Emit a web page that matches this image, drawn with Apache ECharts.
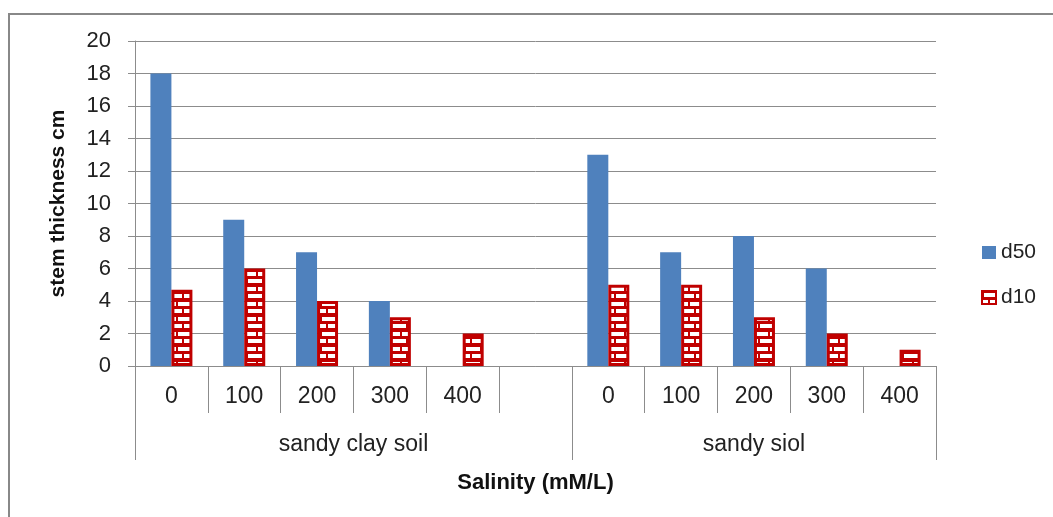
<!DOCTYPE html>
<html>
<head>
<meta charset="utf-8">
<script src="https://cdn.jsdelivr.net/npm/echarts@6/dist/echarts.min.js"></script>
<style>
  html, body { margin: 0; padding: 0; background: #fff; }
  #main { width: 1053px; height: 517px; }
</style>
</head>
<body>
<div id="main"></div>
<script>
// salinity levels per slot ('' is the empty spacer slot between soils)
var salinity = ['0', '100', '200', '300', '400', '', '0', '100', '200', '300', '400']
var d50 = [18, 9, 7, 4, '-', '-', 13, 7, 8, 6, '-']
var d10 = [4.7, 6, 4, 3, 2, '-', 5, 5, 3, 2, 1]
var soils = ['sandy clay soil', 'sandy siol']
var soilSpans = [6, 5]
var yMin = 0
var yMax = 20
var yStep = 2

var FONT = 'Liberation Sans'
var GRAY = '#8c8c8c'

// brick pattern for d10
function brickPattern () {
  var c = document.createElement('canvas')
  c.width = 16
  c.height = 15
  var ctx = c.getContext('2d')
  ctx.fillStyle = '#c00000'
  ctx.fillRect(0, 0, 16, 15)
  ctx.fillStyle = '#ffffff'
  // row 1
  ctx.fillRect(2, 2, 14, 4)
  // row 2
  ctx.fillRect(0, 9, 6, 4)
  ctx.fillRect(8, 9, 8, 4)
  return c
}

// second level axis: half-slot resolution so group labels sit centred
var groupAxis = []
var groupTicks = {}
var groupLabelIdx = {}
var start = 0
for (var g = 0; g < soils.length; g++) {
  groupTicks[start * 2] = true
  groupLabelIdx[start * 2 + soilSpans[g]] = soils[g]
  start += soilSpans[g]
}
groupTicks[start * 2] = true
for (var k = 0; k <= salinity.length * 2; k++) {
  groupAxis.push(groupLabelIdx[k] || '')
}

var chart = echarts.init(document.getElementById('main'))
chart.setOption({
  animation: false,
  backgroundColor: '#fff',
  textStyle: { fontFamily: FONT },
  graphic: [{
    type: 'rect',
    shape: { x: 9, y: 14, width: 1100, height: 600 },
    style: { fill: 'none', stroke: '#888', lineWidth: 2 }
  }],
  grid: { left: 135, right: 117, top: 41, bottom: 151 },
  legend: {
    orient: 'vertical',
    left: 976,
    top: 237,
    itemWidth: 14,
    itemHeight: 13,
    itemGap: 24,
    textStyle: { fontFamily: FONT, fontSize: 21, color: '#222' },
    data: [{ name: 'd50', icon: 'rect' }, { name: 'd10', icon: 'rect' }]
  },
  xAxis: [{
    type: 'category',
    data: salinity,
    position: 'bottom',
    axisLine: { show: true, lineStyle: { color: GRAY, width: 1 } },
    axisTick: { show: true, length: 47, interval: 0, alignWithLabel: false, lineStyle: { color: GRAY } },
    axisLabel: { interval: 0, margin: 19, fontSize: 23, color: '#222', fontFamily: FONT }
  }, {
    type: 'category',
    data: groupAxis,
    position: 'bottom',
    boundaryGap: false,
    axisLine: { show: false },
    axisTick: {
      show: true,
      length: 94,
      interval: function (i) { return !!groupTicks[i] },
      lineStyle: { color: GRAY }
    },
    axisLabel: {
      interval: function (i, v) { return v !== '' },
      margin: 67,
      fontSize: 23,
      color: '#222',
      fontFamily: FONT
    },
    name: 'Salinity (mM/L)',
    nameLocation: 'middle',
    nameGap: 106,
    nameTextStyle: { fontSize: 22, fontWeight: 'bold', color: '#111', fontFamily: FONT }
  }],
  yAxis: {
    type: 'value',
    min: yMin,
    max: yMax,
    interval: yStep,
    axisLine: { show: true, lineStyle: { color: GRAY } },
    axisTick: { show: true, length: 7, lineStyle: { color: GRAY } },
    axisLabel: { margin: 24, fontSize: 22, color: '#222', fontFamily: FONT },
    splitLine: { lineStyle: { color: GRAY, width: 1 } },
    name: 'stem thickness cm',
    nameLocation: 'middle',
    nameGap: 66,
    nameTextStyle: { fontSize: 21, fontWeight: 'bold', color: '#111', fontFamily: FONT }
  },
  series: [{
    name: 'd50',
    type: 'bar',
    data: d50,
    barWidth: 21,
    barGap: '0%',
    itemStyle: { color: '#4f81bd' }
  }, {
    name: 'd10',
    type: 'bar',
    data: d10,
    barWidth: 21,
    barGap: '0%',
    itemStyle: {
      color: { image: brickPattern(), repeat: 'repeat' },
      borderColor: '#c00000',
      borderWidth: 3
    }
  }]
})
</script>
</body>
</html>
